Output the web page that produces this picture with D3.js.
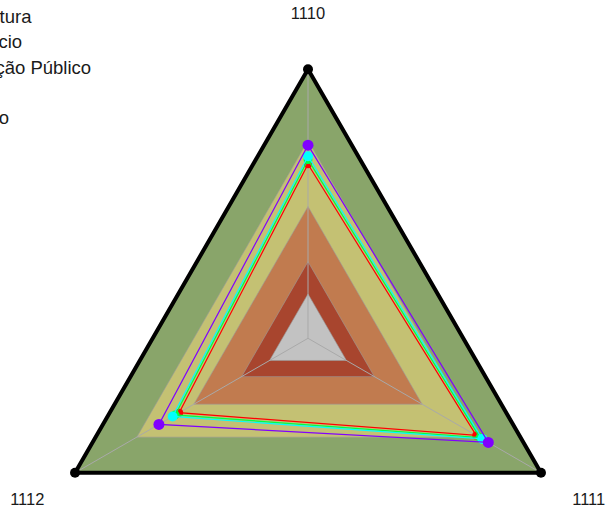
<!DOCTYPE html>
<meta charset="utf-8">
<script src="https://cdn.jsdelivr.net/npm/d3@7"></script>
<style>
    body { margin: 0; background: #fff; }
    svg { display: block; font-family: "Liberation Sans", Arial, sans-serif; }
</style>
<div id="chart"></div>
<script>
    // axes of the radar, clockwise from the top
    var axes = ["1110", "1111", "1112"];

    // background bands (outer to inner)
    var bandLevels = [100, 73.5, 49, 28.5, 16.5];
    var bandColors = ["#89a56a", "#c4c173", "#c17b4f", "#a8452e", "#c2c2c2"];

    // series
    var seriesNames = ["Agricultura", "Comércio", "Educação Público", "Turismo"];
    var seriesColors = ["#ff0000", "#00ff40", "#00ffff", "#8000ff"];
    var legendRows = [0, 1, 2, 4];
    var agricultura = [64.7, 72.2, 55.3];
    var comercio = [66.4, 73.8, 57.0];
    var educacao = [67.7, 74.8, 58.1];
    var turismo = [71.8, 77.4, 64.0];
    var seriesValues = [agricultura, comercio, educacao, turismo];

    var width = 608;
    var height = 514;
    var cx = 308, cy = 338.3;
    var R = 269;

    var svg = d3.select("#chart").append("svg")
        .attr("width", width)
        .attr("height", height);

    var r = d3.scaleLinear().domain([0, 100]).range([0, R]);
    var angle = d3.scaleLinear().domain([0, axes.length]).range([-Math.PI / 2, 1.5 * Math.PI]);

    var pt = (v, i) => [cx + r(v) * Math.cos(angle(i)), cy + r(v) * Math.sin(angle(i))];
    var poly = vals => vals.map((v, i) => pt(v, i));
    var line = d3.line().curve(d3.curveLinearClosed);

    // bands
    svg.append("g").selectAll("path")
        .data(bandLevels)
        .join("path")
        .attr("d", d => line(axes.map((a, i) => pt(d, i))))
        .attr("fill", (d, i) => bandColors[i])
        .attr("stroke", (d, i) => i == 0 ? "none" : "#9a9a9a")
        .attr("stroke-width", 0.6);

    // spokes
    svg.append("g").selectAll("line")
        .data(axes)
        .join("line")
        .attr("x1", cx).attr("y1", cy)
        .attr("x2", (d, i) => pt(100, i)[0])
        .attr("y2", (d, i) => pt(100, i)[1])
        .attr("stroke", "#a9a9a9")
        .attr("stroke-width", 1);

    // outer frame
    svg.append("path")
        .attr("d", line(axes.map((a, i) => pt(100, i))))
        .attr("fill", "none")
        .attr("stroke", "#000")
        .attr("stroke-width", 4)
        .attr("stroke-linejoin", "round");

    svg.append("g").selectAll("circle")
        .data(axes)
        .join("circle")
        .attr("cx", (d, i) => pt(100, i)[0])
        .attr("cy", (d, i) => pt(100, i)[1])
        .attr("r", 5)
        .attr("fill", "#000");

    // axis labels
    svg.append("g").selectAll("text")
        .data(axes)
        .join("text")
        .attr("x", (d, i) => pt(120.5, i)[0])
        .attr("y", (d, i) => pt(120.5, i)[1])
        .attr("text-anchor", "middle")
        .attr("dominant-baseline", "middle")
        .attr("font-size", 16.5)
        .attr("fill", "#1a1a1a")
        .text(d => d);

    // series lines and dots
    var dotR = [4, 4.4, 5, 5.5];
    var gs = svg.append("g").selectAll("g")
        .data(seriesValues)
        .join("g");

    gs.append("path")
        .attr("d", d => line(poly(d)))
        .attr("fill", "none")
        .attr("stroke", (d, i) => seriesColors[i])
        .attr("stroke-width", 1.2);

    gs.each(function (d, k) {
        d3.select(this).selectAll("circle")
            .data(poly(d))
            .join("circle")
            .attr("cx", p => p[0])
            .attr("cy", p => p[1])
            .attr("r", dotR[k])
            .attr("fill", seriesColors[k]);
    });

    // legend (starts left of the visible area)
    var lx = -57;
    var legend = svg.append("g").selectAll("g")
        .data(seriesNames)
        .join("g")
        .attr("transform", (d, i) => `translate(${lx},${23 + legendRows[i] * 25.3})`);

    legend.append("line")
        .attr("x1", -40).attr("x2", -10)
        .attr("y1", -6).attr("y2", -6)
        .attr("stroke", (d, i) => seriesColors[i])
        .attr("stroke-width", 2);

    legend.append("text")
        .attr("font-size", 18.5)
        .attr("fill", "#1a1a1a")
        .text(d => d);
</script>
